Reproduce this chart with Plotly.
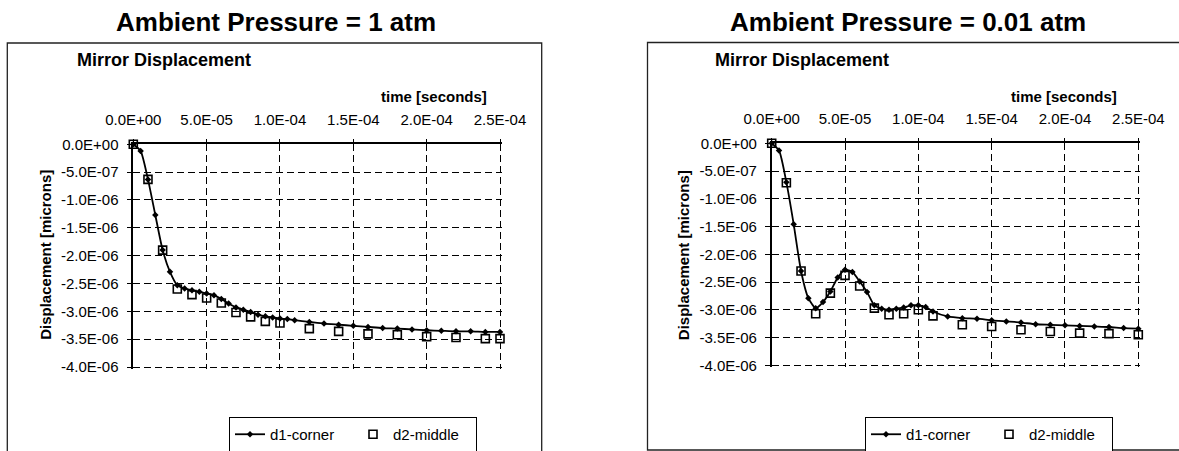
import plotly.graph_objects as go

W, H = 1179, 451

# ---------------- data ----------------
x_tickvals = [0, 5e-5, 1e-4, 1.5e-4, 2e-4, 2.5e-4]
x_ticktext = ["0.0E+00", "5.0E-05", "1.0E-04", "1.5E-04", "2.0E-04", "2.5E-04"]
y_tickvals = [0, -0.5e-6, -1.0e-6, -1.5e-6, -2.0e-6, -2.5e-6, -3.0e-6, -3.5e-6, -4.0e-6]
y_ticktext = ["0.0E+00", "-5.0E-07", "-1.0E-06", "-1.5E-06", "-2.0E-06",
              "-2.5E-06", "-3.0E-06", "-3.5E-06", "-4.0E-06"]

t_d1 = [0, 5e-6, 1e-5, 1.5e-5, 2e-5, 2.5e-5, 3e-5, 3.5e-5, 4e-5, 4.5e-5, 5e-5,
        5.5e-5, 6e-5, 6.5e-5, 7e-5, 7.5e-5, 8e-5, 8.5e-5, 9e-5, 9.5e-5, 1e-4,
        1.05e-4, 1.1e-4, 1.2e-4, 1.3e-4, 1.4e-4, 1.5e-4, 1.6e-4, 1.7e-4, 1.8e-4,
        1.9e-4, 2.0e-4, 2.1e-4, 2.2e-4, 2.3e-4, 2.4e-4, 2.5e-4]

left_d1 = [0, -0.12e-6, -0.63e-6, -1.27e-6, -1.90e-6, -2.29e-6, -2.53e-6, -2.59e-6,
           -2.62e-6, -2.65e-6, -2.68e-6, -2.71e-6, -2.78e-6, -2.86e-6, -2.93e-6,
           -2.97e-6, -3.01e-6, -3.06e-6, -3.09e-6, -3.11e-6, -3.13e-6, -3.14e-6,
           -3.16e-6, -3.19e-6, -3.22e-6, -3.24e-6, -3.26e-6, -3.28e-6, -3.30e-6,
           -3.31e-6, -3.325e-6, -3.34e-6, -3.35e-6, -3.36e-6, -3.36e-6, -3.37e-6,
           -3.37e-6]

left_t_d2 = [0, 1e-5, 2e-5, 3e-5, 4e-5, 5e-5, 6e-5, 7e-5, 8e-5, 9e-5, 1e-4,
             1.2e-4, 1.4e-4, 1.6e-4, 1.8e-4, 2.0e-4, 2.2e-4, 2.4e-4, 2.5e-4]
left_d2 = [0, -0.63e-6, -1.90e-6, -2.60e-6, -2.70e-6, -2.76e-6, -2.85e-6, -3.02e-6,
           -3.10e-6, -3.18e-6, -3.21e-6, -3.31e-6, -3.36e-6, -3.405e-6, -3.42e-6,
           -3.455e-6, -3.47e-6, -3.49e-6, -3.49e-6]

right_d1 = [0, -0.13e-6, -0.70e-6, -1.46e-6, -2.30e-6, -2.79e-6, -2.97e-6, -2.86e-6,
            -2.67e-6, -2.42e-6, -2.28e-6, -2.32e-6, -2.49e-6, -2.68e-6, -2.92e-6,
            -2.98e-6, -3.00e-6, -2.98e-6, -2.96e-6, -2.92e-6, -2.92e-6, -2.95e-6,
            -3.03e-6, -3.12e-6, -3.15e-6, -3.16e-6, -3.19e-6, -3.21e-6, -3.23e-6,
            -3.26e-6, -3.27e-6, -3.28e-6, -3.29e-6, -3.30e-6, -3.31e-6, -3.33e-6,
            -3.34e-6]

right_t_d2 = [0, 1e-5, 2e-5, 3e-5, 4e-5, 5e-5, 6e-5, 7e-5, 8e-5, 9e-5, 1e-4,
              1.1e-4, 1.3e-4, 1.5e-4, 1.7e-4, 1.9e-4, 2.1e-4, 2.3e-4, 2.5e-4]
right_d2 = [0, -0.71e-6, -2.30e-6, -3.07e-6, -2.70e-6, -2.38e-6, -2.57e-6, -2.97e-6,
            -3.09e-6, -3.07e-6, -3.00e-6, -3.11e-6, -3.27e-6, -3.30e-6, -3.36e-6,
            -3.39e-6, -3.42e-6, -3.43e-6, -3.45e-6]

panel_titles = ["Ambient Pressure = 1 atm", "Ambient Pressure = 0.01 atm"]
chart_title = "Mirror Displacement"
x_title = "time [seconds]"
y_title = "Displacement [microns]"
series_names = ["d1-corner", "d2-middle"]

# ---------------- layout helpers ----------------
FONT = "Liberation Sans, Arial, Helvetica, sans-serif"


def px(x):
    return x / W


def py(y):
    return 1 - y / H


EXT = 2.0  # extra px so the end grid lines are kept
panels = [
    dict(x0=133.3, x1=500.0, y0=144.3, y1=367.0, frame=(7.3, 43.0, 541.7, 470.0),
         title_x=276, mirror_x=75, time_x=489, ytitle_x=44.8,
         leg_x=229, d1=left_d1, t2=left_t_d2, d2=left_d2),
    dict(x0=771.7, x1=1138.3, y0=143.3, y1=365.3, frame=(647.5, 42.5, 1200.0, 450.0),
         title_x=908, mirror_x=712.5, time_x=1119, ytitle_x=683.2,
         leg_x=865, d1=right_d1, t2=right_t_d2, d2=right_d2),
]

fig = go.Figure()
annotations = []
shapes = []
layout = {}

for i, p in enumerate(panels):
    n = "" if i == 0 else str(i + 1)
    xa, ya = "x" + n, "y" + n
    leg = "legend" if i == 0 else "legend2"
    xlen = p["x1"] - p["x0"]
    ylen = p["y1"] - p["y0"]
    xr_end = 2.5e-4 * (xlen + EXT) / xlen
    yr_end = -4e-6 * (ylen + EXT) / ylen

    fig.add_trace(go.Scatter(
        x=t_d1, y=p["d1"], name=series_names[0], xaxis=xa, yaxis=ya, legend=leg,
        mode="lines+markers", cliponaxis=False,
        line=dict(color="black", width=1.8, shape="spline", smoothing=0.6),
        marker=dict(symbol="diamond", size=5, color="black"), showlegend=True))
    fig.add_trace(go.Scatter(
        x=p["t2"], y=p["d2"], name=series_names[1], xaxis=xa, yaxis=ya, legend=leg,
        mode="markers", cliponaxis=False,
        marker=dict(symbol="square-open", size=8, color="black", line=dict(width=1.6)),
        showlegend=True))

    axis_common = dict(showline=True, linecolor="black", linewidth=1.5,
                       showgrid=True, gridcolor="black", gridwidth=1.2,
                       griddash="7px,4px", zeroline=False, ticks="outside",
                       tickcolor="black", tickwidth=1.2, automargin=False,
                       tickfont=dict(family=FONT, size=15, color="black"))
    layout["xaxis" + n] = dict(
        axis_common, domain=[px(p["x0"]), px(p["x1"] + EXT)], range=[0, xr_end],
        side="top", anchor=ya, tickvals=x_tickvals, ticktext=x_ticktext,
        ticklen=4, ticklabelstandoff=8)
    layout["yaxis" + n] = dict(
        axis_common, domain=[py(p["y1"] + EXT), py(p["y0"])], range=[yr_end, 0],
        anchor=xa, tickvals=y_tickvals, ticktext=y_ticktext,
        ticklen=5, ticklabelstandoff=5)

    layout[leg] = dict(
        x=px(p["leg_x"]), y=py(417), xanchor="left", yanchor="top",
        orientation="h", bordercolor="black", borderwidth=1, bgcolor="white",
        font=dict(family=FONT, size=15, color="black"),
        entrywidth=78, entrywidthmode="pixels", itemwidth=30, tracegroupgap=0)

    annotations += [
        dict(text="<b>%s</b>" % panel_titles[i], x=px(p["title_x"]), y=py(21.7),
             xref="paper", yref="paper", xanchor="center", yanchor="middle",
             showarrow=False, font=dict(family=FONT, size=26, color="black")),
        dict(text="<b>%s</b>" % chart_title, x=px(p["mirror_x"]), y=py(60),
             xref="paper", yref="paper", xanchor="left", yanchor="middle",
             showarrow=False, font=dict(family=FONT, size=18, color="black")),
        dict(text="<b>%s</b>" % x_title, x=px(p["time_x"]), y=py(96.7),
             xref="paper", yref="paper", xanchor="right", yanchor="middle",
             showarrow=False, font=dict(family=FONT, size=15, color="black")),
        dict(text="<b>%s</b>" % y_title, x=px(p["ytitle_x"]), y=py(255),
             xref="paper", yref="paper", xanchor="center", yanchor="middle",
             textangle=-90, showarrow=False,
             font=dict(family=FONT, size=15, color="black")),
    ]
    fx0, fy0, fx1, fy1 = p["frame"]
    shapes.append(dict(type="rect", xref="paper", yref="paper",
                       x0=px(fx0), x1=px(fx1), y0=py(fy1), y1=py(fy0),
                       line=dict(color="#222222", width=1.3), layer="below"))

fig.update_layout(
    template="none",
    width=W, height=H, margin=dict(l=0, r=0, t=0, b=0, pad=0, autoexpand=False),
    paper_bgcolor="white", plot_bgcolor="rgba(0,0,0,0)",
    font=dict(family=FONT, color="black"),
    annotations=annotations, shapes=shapes, **layout)

fig.write_html(
    "out.html",
    config={"responsive": False, "displayModeBar": False},
    post_script="document.body.style.margin='0';document.body.style.overflow='hidden';",
)
